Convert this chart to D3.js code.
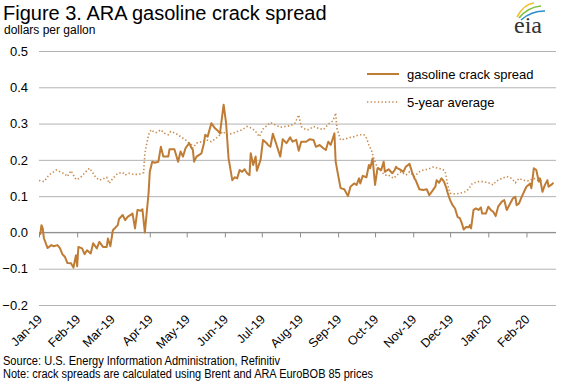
<!DOCTYPE html>
<html>
<head>
<meta charset="utf-8">
<script src="https://cdn.jsdelivr.net/npm/d3@7/dist/d3.min.js"></script>
<style>
  body { margin: 0; background: #fff; }
  svg { display: block; font-family: 'Liberation Sans', Arial, sans-serif; }
</style>
</head>
<body>
<svg id="chart"></svg>
<script>
// gasoline crack spread, dollars per gallon
const crackDates = [
  '2019-01-02','2019-01-03','2019-01-04','2019-01-05','2019-01-08','2019-01-11','2019-01-13','2019-01-16','2019-01-18','2019-01-20',
  '2019-01-22','2019-01-24','2019-01-27','2019-01-29','2019-01-31','2019-02-01','2019-02-02','2019-02-05','2019-02-07','2019-02-09',
  '2019-02-12','2019-02-14','2019-02-17','2019-02-19','2019-02-22','2019-02-25','2019-02-26','2019-02-28','2019-03-02','2019-03-06',
  '2019-03-07','2019-03-10','2019-03-12','2019-03-14','2019-03-18','2019-03-20','2019-03-22','2019-03-25','2019-03-26','2019-03-28',
  '2019-03-31','2019-04-01','2019-04-03','2019-04-05','2019-04-08','2019-04-10','2019-04-12','2019-04-16','2019-04-17','2019-04-21',
  '2019-04-24','2019-04-26','2019-04-28','2019-04-30','2019-05-03','2019-05-05','2019-05-06','2019-05-07','2019-05-09','2019-05-13',
  '2019-05-15','2019-05-16','2019-05-18','2019-05-21','2019-05-24','2019-05-26','2019-05-28','2019-05-31','2019-06-02','2019-06-04',
  '2019-06-07','2019-06-09','2019-06-11','2019-06-13','2019-06-15','2019-06-17','2019-06-19','2019-06-21','2019-06-22','2019-06-24',
  '2019-06-26','2019-06-27','2019-06-30','2019-07-02','2019-07-05','2019-07-06','2019-07-08','2019-07-10','2019-07-13','2019-07-16',
  '2019-07-18','2019-07-21','2019-07-24','2019-07-26','2019-07-29','2019-07-31','2019-08-02','2019-08-06','2019-08-09','2019-08-12',
  '2019-08-14','2019-08-17','2019-08-20','2019-08-22','2019-08-24','2019-08-26','2019-08-29','2019-08-30','2019-09-01','2019-09-03',
  '2019-09-06','2019-09-09','2019-09-11','2019-09-14','2019-09-16','2019-09-18','2019-09-19','2019-09-21','2019-09-24','2019-09-26',
  '2019-09-27','2019-09-29','2019-10-01','2019-10-03','2019-10-06','2019-10-08','2019-10-09','2019-10-12','2019-10-15','2019-10-17',
  '2019-10-18','2019-10-19','2019-10-22','2019-10-24','2019-10-26','2019-10-29','2019-10-31','2019-11-02','2019-11-03','2019-11-06',
  '2019-11-09','2019-11-12','2019-11-14','2019-11-16','2019-11-19','2019-11-20','2019-11-22','2019-11-24','2019-11-26','2019-11-28',
  '2019-11-29','2019-12-01','2019-12-03','2019-12-05','2019-12-07','2019-12-09','2019-12-11','2019-12-12','2019-12-14','2019-12-16',
  '2019-12-17','2019-12-18','2019-12-20','2019-12-22','2019-12-24','2019-12-26','2019-12-27','2019-12-30','2020-01-01','2020-01-03',
  '2020-01-05','2020-01-07','2020-01-09','2020-01-12','2020-01-14','2020-01-16','2020-01-18','2020-01-21','2020-01-23','2020-01-24',
  '2020-01-26','2020-01-28','2020-01-30','2020-02-01','2020-02-04','2020-02-05','2020-02-06','2020-02-07','2020-02-09','2020-02-11',
  '2020-02-12','2020-02-14','2020-02-16','2020-02-18','2020-02-19','2020-02-21','2020-02-23'
]
const crackValues = [
  -0.007, 0.02, 0.012, -0.016, -0.043, -0.035, -0.038, -0.035, -0.043, -0.06,
  -0.067, -0.084, -0.085, -0.097, -0.063, -0.093, -0.04, -0.044, -0.06, -0.049,
  -0.058, -0.03, -0.044, -0.026, -0.04, -0.04, -0.017, -0.038, 0.006, 0.02,
  0.037, 0.048, 0.034, 0.043, 0.052, 0.011, 0.062, 0.06, 0.064, 0.0,
  0.108, 0.167, 0.195, 0.192, 0.195, 0.236, 0.209, 0.209, 0.229, 0.229,
  0.195, 0.223, 0.209, 0.232, 0.246, 0.232, 0.227, 0.195, 0.209, 0.218,
  0.246, 0.269, 0.264, 0.301, 0.287, 0.281, 0.273, 0.352, 0.301, 0.204,
  0.144, 0.152, 0.149, 0.172, 0.167, 0.174, 0.163, 0.158, 0.218, 0.186,
  0.209, 0.17, 0.2, 0.255, 0.246, 0.241, 0.236, 0.272, 0.241, 0.209,
  0.257, 0.246, 0.262, 0.25, 0.255, 0.225, 0.25, 0.25, 0.257, 0.255,
  0.236, 0.241, 0.232, 0.227, 0.25, 0.241, 0.273, 0.195, 0.158, 0.122,
  0.119, 0.1, 0.126, 0.135, 0.131, 0.149, 0.135, 0.156, 0.152, 0.186,
  0.177, 0.204, 0.131, 0.177, 0.172, 0.195, 0.167, 0.174, 0.163, 0.172,
  0.181, 0.177, 0.172, 0.167, 0.181, 0.189, 0.167, 0.149, 0.144, 0.119,
  0.117, 0.119, 0.103, 0.112, 0.126, 0.144, 0.137, 0.149, 0.14, 0.122,
  0.109, 0.089, 0.075, 0.066, 0.043, 0.039, 0.02, 0.008, 0.015, 0.014,
  0.02, 0.011, 0.062, 0.066, 0.062, 0.069, 0.052, 0.052, 0.071, 0.062,
  0.057, 0.045, 0.071, 0.085, 0.089, 0.062, 0.075, 0.094, 0.098, 0.075,
  0.08, 0.097, 0.112, 0.126, 0.135, 0.122, 0.149, 0.177, 0.172, 0.14,
  0.149, 0.112, 0.131, 0.144, 0.126, 0.131, 0.137
]

// 5-year average
const avgDates = [
  '2019-01-01','2019-01-05','2019-01-09','2019-01-12','2019-01-15','2019-01-19','2019-01-22','2019-01-24','2019-01-27','2019-01-29',
  '2019-01-31','2019-02-03','2019-02-05','2019-02-08','2019-02-11','2019-02-14','2019-02-16','2019-02-19','2019-02-23','2019-02-25',
  '2019-02-27','2019-03-02','2019-03-06','2019-03-10','2019-03-12','2019-03-15','2019-03-19','2019-03-23','2019-03-27','2019-03-28',
  '2019-03-31','2019-04-02','2019-04-04','2019-04-06','2019-04-10','2019-04-13','2019-04-16','2019-04-18','2019-04-22','2019-04-26',
  '2019-04-30','2019-05-05','2019-05-06','2019-05-09','2019-05-13','2019-05-17','2019-05-21','2019-05-25','2019-05-28','2019-05-30',
  '2019-06-03','2019-06-07','2019-06-11','2019-06-15','2019-06-19','2019-06-23','2019-06-26','2019-06-29','2019-07-02','2019-07-05',
  '2019-07-08','2019-07-12','2019-07-16','2019-07-20','2019-07-24','2019-07-28','2019-07-31','2019-08-02','2019-08-05','2019-08-08',
  '2019-08-12','2019-08-16','2019-08-20','2019-08-23','2019-08-25','2019-08-28','2019-08-30','2019-08-31','2019-09-03','2019-09-06',
  '2019-09-10','2019-09-14','2019-09-18','2019-09-22','2019-09-24','2019-09-26','2019-09-28','2019-09-30','2019-10-02','2019-10-05',
  '2019-10-09','2019-10-12','2019-10-16','2019-10-19','2019-10-22','2019-10-26','2019-10-29','2019-11-02','2019-11-06','2019-11-09',
  '2019-11-13','2019-11-17','2019-11-21','2019-11-25','2019-11-27','2019-11-29','2019-12-01','2019-12-05','2019-12-09','2019-12-13',
  '2019-12-16','2019-12-19','2019-12-24','2019-12-28','2020-01-01','2020-01-05','2020-01-07','2020-01-12','2020-01-16','2020-01-20',
  '2020-01-23','2020-01-26','2020-01-29','2020-02-03','2020-02-07','2020-02-11','2020-02-15'
]
const avgValues = [
  0.143, 0.14, 0.158, 0.165, 0.172, 0.166, 0.161, 0.154, 0.17, 0.158,
  0.146, 0.149, 0.156, 0.167, 0.177, 0.163, 0.152, 0.144, 0.149, 0.152,
  0.135, 0.149, 0.163, 0.165, 0.158, 0.163, 0.16, 0.16, 0.165, 0.218,
  0.269, 0.283, 0.278, 0.275, 0.283, 0.273, 0.269, 0.278, 0.273, 0.264,
  0.255, 0.241, 0.232, 0.246, 0.25, 0.255, 0.25, 0.26, 0.269, 0.278,
  0.269, 0.273, 0.278, 0.283, 0.292, 0.287, 0.278, 0.264, 0.285, 0.294,
  0.303, 0.296, 0.29, 0.292, 0.294, 0.301, 0.324, 0.292, 0.285, 0.283,
  0.292, 0.287, 0.283, 0.294, 0.301, 0.308, 0.329, 0.287, 0.255, 0.257,
  0.261, 0.264, 0.269, 0.269, 0.26, 0.241, 0.227, 0.204, 0.186, 0.172,
  0.158, 0.158, 0.149, 0.158, 0.167, 0.158, 0.167, 0.154, 0.167, 0.172,
  0.174, 0.18, 0.177, 0.174, 0.167, 0.131, 0.108, 0.106, 0.108, 0.112,
  0.119, 0.135, 0.14, 0.14, 0.137, 0.131, 0.14, 0.149, 0.154, 0.149,
  0.137, 0.149, 0.144, 0.142, 0.149, 0.142, 0.144
]

const yTicks = [0.5, 0.4, 0.3, 0.2, 0.1, 0.0, -0.1, -0.2]
const monthTicks = ['2019-01-01','2019-02-01','2019-03-01','2019-04-01','2019-05-01','2019-06-01','2019-07-01',
  '2019-08-01','2019-09-01','2019-10-01','2019-11-01','2019-12-01','2020-01-01','2020-02-01']
const seriesNames = ['gasoline crack spread', '5-year average']

const width = 575, height = 384
const lineColor = '#bf7c35'
const parse = d3.utcParse('%Y-%m-%d')

const svg = d3.select('#chart')
  .attr('width', width)
  .attr('height', height)

const x = d3.scaleUtc()
  .domain([parse('2019-01-01'), parse('2020-02-25')])
  .range([39, 556])

const y = d3.scaleLinear()
  .domain([-0.2, 0.5])
  .range([305, 51])

// titles
svg.append('text')
  .attr('x', 3).attr('y', 20)
  .style('font-size', '20px')
  .attr('fill', '#000')
  .text('Figure 3. ARA gasoline crack spread')

svg.append('text')
  .attr('x', 4).attr('y', 34)
  .style('font-size', '12px')
  .text('dollars per gallon')

// gridlines + y labels
const yAxis = d3.axisLeft(y)
  .tickValues(yTicks)
  .tickSize(-(556 - 39))
  .tickPadding(11)
  .tickFormat(d3.format('.1f'))

const gy = svg.append('g')
  .attr('transform', 'translate(39,0)')
  .call(yAxis)
gy.select('.domain').remove()
gy.selectAll('.tick line').attr('stroke', '#b3b3b3').attr('stroke-width', 1)
gy.selectAll('.tick text')
  .attr('fill', '#000')
  .style('font-size', '13px')
  .style('font-family', "'Liberation Sans', Arial, sans-serif")

// zero axis with month ticks
const xAxis = d3.axisBottom(x)
  .tickValues(monthTicks.map(parse))
  .tickSize(5)
  .tickFormat('')

const gx = svg.append('g')
  .attr('transform', `translate(0,${y(0)})`)
  .call(xAxis)
gx.select('.domain').attr('stroke', '#8c8c8c').attr('d', `M39,0H556`)
gx.selectAll('.tick line').attr('stroke', '#8c8c8c')

// month labels at the bottom, rotated
svg.append('g')
  .selectAll('text')
  .data(monthTicks)
  .enter()
  .append('text')
  .attr('transform', d => `translate(${x(parse(d)) + 4},${320}) rotate(-45)`)
  .attr('text-anchor', 'end')
  .style('font-size', '12.5px')
  .text(d => d3.utcFormat('%b-%y')(parse(d)))

// lines
const line = d3.line()
  .x(d => x(d.date))
  .y(d => y(d.value))

const crack = crackDates.map((d, i) => ({ date: parse(d), value: crackValues[i] }))
const avg = avgDates.map((d, i) => ({ date: parse(d), value: avgValues[i] }))

svg.append('path')
  .datum(avg)
  .attr('fill', 'none')
  .attr('stroke', '#c98d52')
  .attr('stroke-width', 1.6)
  .attr('stroke-dasharray', '1.4 2.2')
  .attr('d', line)

svg.append('path')
  .datum(crack)
  .attr('fill', 'none')
  .attr('stroke', lineColor)
  .attr('stroke-width', 2)
  .attr('stroke-linejoin', 'round')
  .attr('d', line)

// legend
const legend = svg.append('g')
  .selectAll('g')
  .data(seriesNames)
  .enter()
  .append('g')
  .attr('transform', (d, i) => `translate(367,${74 + i * 28})`)

legend.append('line')
  .attr('x1', 0).attr('x2', 32)
  .attr('stroke', (d, i) => i ? '#c98d52' : lineColor)
  .attr('stroke-width', (d, i) => i ? 1.6 : 2)
  .attr('stroke-dasharray', (d, i) => i ? '1.4 2.2' : null)

legend.append('text')
  .attr('x', 40).attr('dy', '0.35em')
  .style('font-size', '13px')
  .text(d => d)

// source notes
svg.append('text')
  .attr('x', 3).attr('y', 365)
  .attr('textLength', 277).attr('lengthAdjust', 'spacingAndGlyphs')
  .style('font-size', '12px')
  .text('Source: U.S. Energy Information Administration, Refinitiv')

svg.append('text')
  .attr('x', 3).attr('y', 378)
  .attr('textLength', 370).attr('lengthAdjust', 'spacingAndGlyphs')
  .style('font-size', '12px')
  .text('Note: crack spreads are calculated using Brent and ARA  EuroBOB 85 prices')

// eia logo
const logo = svg.append('g')
const arcs = [
  { d: 'M517,17 Q524,4 534,3', c: '#f2c12e' },
  { d: 'M519,18 Q528,7 541,6', c: '#7fbf3f' },
  { d: 'M521,20 Q531,11 545,11', c: '#2a8fcf' }
]
logo.selectAll('path')
  .data(arcs)
  .enter()
  .append('path')
  .attr('d', d => d.d)
  .attr('fill', 'none')
  .attr('stroke', d => d.c)
  .attr('stroke-width', 1.6)

logo.append('text')
  .attr('x', 514).attr('y', 33)
  .style('font-family', "'Liberation Serif', 'DejaVu Serif', serif")
  .style('font-size', '24px')
  .attr('fill', '#333')
  .text('eia')
</script>
</body>
</html>
